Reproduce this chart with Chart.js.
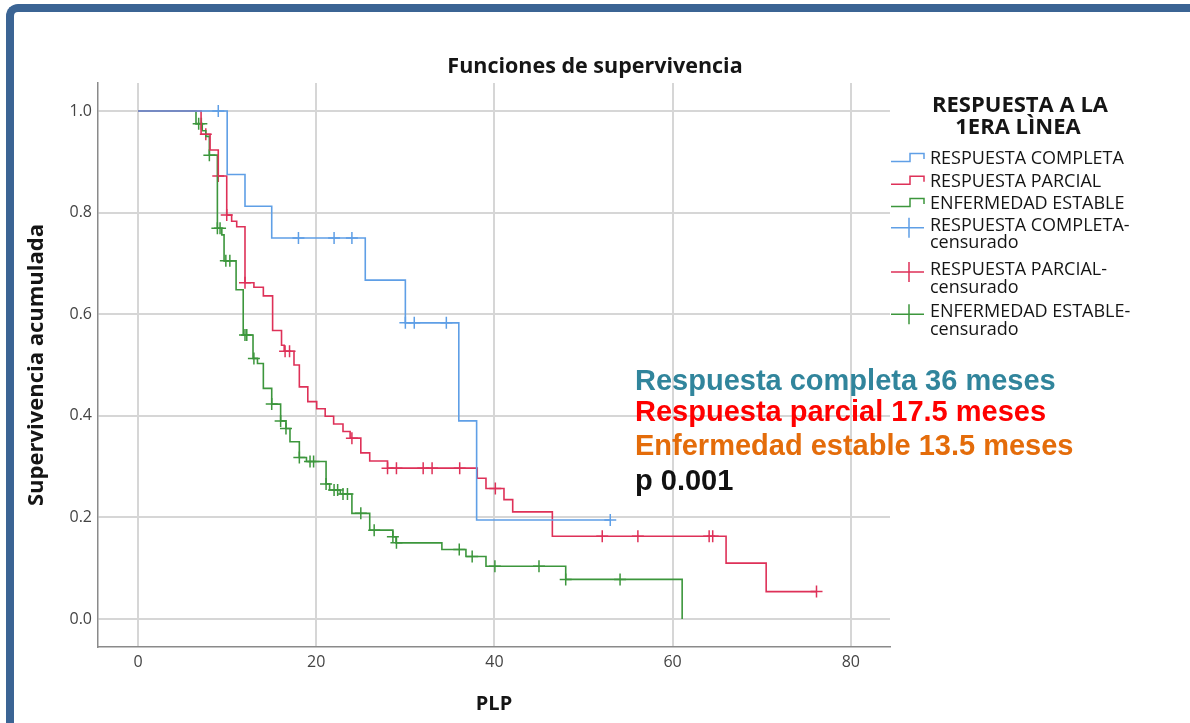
<!DOCTYPE html>
<html>
<head>
<meta charset="utf-8">
<script src="https://cdn.jsdelivr.net/npm/chart.js@4.4.1/dist/chart.umd.min.js"></script>
<style>
html, body { margin: 0; padding: 0; background: #fff; }
#wrap { position: relative; width: 1190px; height: 723px; overflow: hidden; }
#km { position: absolute; left: 0; top: 0; }
#frame {
    position: absolute; left: 6px; top: 4px; width: 1300px; height: 800px;
    border-left: 8px solid #3b6494; border-top: 8px solid #3b6494;
    border-top-left-radius: 12px; box-sizing: border-box; pointer-events: none;
}
</style>
</head>
<body>
<div id="wrap">
    <canvas id="km" width="1190" height="723"></canvas>
    <div id="frame"></div>
</div>
<script>
// tick labels
const xTicks = [0, 20, 40, 60, 80];
const yTicks = [0, 0.2, 0.4, 0.6, 0.8, 1.0];

// Respuesta completa: step times / survival, censored times
const completaTime = [0, 10.0, 12.0, 15.0, 25.5, 30.0, 36.0, 38.0, 53.0];
const completaSurv = [1, 0.875, 0.8125, 0.75, 0.667, 0.583, 0.39, 0.195, 0.195];
const completaCens = [9.0, 18.0, 22.0, 24.0, 30.0, 31.0, 34.6, 53.0];

// Respuesta parcial
const parcialTime = [0, 7.07, 8.08, 9.0, 9.95, 10.5, 11.07, 12.0, 13.0, 14.06, 15.1, 16.1, 16.4,
    17.5, 18.1, 19.05, 20.05, 21.0, 21.95, 23.0, 23.8, 25.0, 26.0, 28.0, 38.07, 39.05, 41.07,
    42.05, 46.5, 66.0, 70.5, 76.15];
const parcialSurv = [1, 0.954, 0.923, 0.872, 0.795, 0.783, 0.772, 0.662, 0.653, 0.636, 0.568, 0.539, 0.527,
    0.5, 0.457, 0.428, 0.414, 0.399, 0.384, 0.369, 0.356, 0.327, 0.311, 0.297, 0.277, 0.257, 0.235,
    0.211, 0.163, 0.11, 0.054, 0.054];
const parcialCens = [7.6, 9.0, 9.95, 12.0, 16.5, 17.0, 24.0, 28.0, 29.0, 32.0, 33.0, 36.1, 40.1,
    52.1, 56.1, 64.1, 64.5, 76.15];

// Enfermedad estable
const estableTime = [0, 6.5, 7.2, 7.6, 8.0, 8.9, 9.4, 9.65, 11.0, 11.8, 12.9, 13.4, 14.06, 15.0, 16.0,
    16.6, 17.05, 18.1, 18.9, 21.1, 21.5, 22.7, 24.0, 26.0, 28.6, 28.95, 34.1, 36.8, 39.05, 48.0, 61.07];
const estableSurv = [1, 0.975, 0.961, 0.95, 0.913, 0.769, 0.756, 0.705, 0.648, 0.559, 0.513, 0.503, 0.454,
    0.423, 0.39, 0.375, 0.349, 0.318, 0.31, 0.266, 0.254, 0.246, 0.208, 0.175, 0.162, 0.15, 0.137,
    0.123, 0.104, 0.078, 0];
const estableCens = [6.8, 7.1, 8.0, 8.9, 9.2, 9.85, 10.3, 12.0, 12.2, 13.0, 15.0, 16.0, 16.6, 18.1, 19.3,
    19.7, 21.1, 22.0, 22.4, 23.0, 23.5, 25.0, 26.5, 28.6, 29.0, 36.05, 37.5, 40.05, 45.0, 48.0, 54.1];

const notes = ['Respuesta completa 36 meses', 'Respuesta parcial 17.5 meses',
    'Enfermedad estable 13.5 meses', 'p 0.001'];

const FONT = '"Open Sans", "DejaVu Sans", sans-serif';

function steps(time, surv) {
    return time.map((t, i) => ({ x: t, y: surv[i] }));
}

// value of the step curve at a censored time
function survAt(time, surv, t) {
    let v = surv[0];
    for (let i = 0; i < time.length; i++) {
        if (time[i] <= t) v = surv[i];
    }
    return v;
}

const groups = [
    { label: 'RESPUESTA COMPLETA', time: completaTime, surv: completaSurv, cens: completaCens, color: '#5f9fe6' },
    { label: 'RESPUESTA PARCIAL', time: parcialTime, surv: parcialSurv, cens: parcialCens, color: '#de3158' },
    { label: 'ENFERMEDAD ESTABLE', time: estableTime, surv: estableSurv, cens: estableCens, color: '#3c963c' }
];

const datasets = [];
groups.forEach(g => {
    datasets.push({
        label: g.label,
        data: steps(g.time, g.surv),
        stepped: 'before',
        borderColor: g.color,
        borderWidth: 1.6,
        pointRadius: 0,
        fill: false
    });
});
groups.forEach(g => {
    datasets.push({
        label: g.label + '-censurado',
        data: g.cens.map(c => ({ x: c, y: survAt(g.time, g.surv, c) })),
        showLine: false,
        borderColor: g.color,
        pointStyle: 'cross',
        pointRadius: 6,
        pointHoverRadius: 6,
        pointBorderWidth: 1.5
    });
});

const overlay = {
    id: 'overlay',
    afterDraw(chart) {
        const ctx = chart.ctx;
        ctx.save();
        ctx.fillStyle = '#151515';
        ctx.textBaseline = 'alphabetic';

        // title
        ctx.textAlign = 'center';
        ctx.font = 'bold 21.5px ' + FONT;
        ctx.fillText('Funciones de supervivencia', 595, 73);

        // legend title
        ctx.font = 'bold 22px ' + FONT;
        ctx.fillText('RESPUESTA A LA', 1020, 112);
        ctx.fillText('1ERA LÌNEA', 1018, 134);

        // legend entries
        ctx.textAlign = 'left';
        ctx.font = '18px ' + FONT;
        const rows = [164, 186.7, 209, 230.7, 275, 317.3];
        chart.data.datasets.forEach((ds, i) => {
            const b = rows[i];
            ctx.strokeStyle = ds.borderColor;
            ctx.lineWidth = 1.5;
            ctx.beginPath();
            if (ds.showLine === false) {
                const cy = b - 3;
                ctx.moveTo(891, cy); ctx.lineTo(924, cy);
                ctx.moveTo(909, cy - 10); ctx.lineTo(909, cy + 10);
            } else {
                ctx.moveTo(891, b - 2.5); ctx.lineTo(910, b - 2.5);
                ctx.lineTo(910, b - 10.5); ctx.lineTo(924, b - 10.5);
                ctx.lineTo(924, b - 5);
            }
            ctx.stroke();
            ctx.fillStyle = '#151515';
            const parts = ds.label.split('-');
            if (parts.length > 1) {
                ctx.fillText(parts[0] + '-', 930, b);
                ctx.fillText(parts[1], 930, b + 17.6);
            } else {
                ctx.fillText(ds.label, 930, b);
            }
        });

        // median notes
        const noteColors = ['#31859c', '#ff0000', '#e46c0a', '#111111'];
        const noteBase = [390, 421, 455, 490];
        ctx.font = 'bold 29px "Liberation Sans", Arial, sans-serif';
        notes.forEach((t, i) => {
            ctx.fillStyle = noteColors[i];
            ctx.fillText(t, 635, noteBase[i]);
        });
        ctx.restore();
    }
};

new Chart(document.getElementById('km'), {
    type: 'line',
    data: { datasets: datasets },
    options: {
        responsive: false,
        animation: false,
        devicePixelRatio: 1,
        layout: { padding: { left: 0, right: 300, top: 83, bottom: 0 } },
        plugins: {
            legend: { display: false },
            title: { display: false },
            tooltip: { enabled: false }
        },
        scales: {
            x: {
                type: 'linear',
                min: -4.5,
                max: 84.4,
                afterBuildTicks: s => { s.ticks = xTicks.map(v => ({ value: v })); },
                afterFit: s => { s.height = 76; },
                ticks: { font: { family: FONT, size: 16 }, color: '#444', padding: 6, callback: v => v },
                grid: { color: '#d6d6d6', lineWidth: 2, drawTicks: false },
                border: { color: '#8a8a8a', width: 1.5 },
                title: {
                    display: true, text: 'PLP', color: '#151515',
                    font: { family: FONT, size: 20, weight: 'bold' },
                    padding: { top: 0, bottom: 7 }
                }
            },
            y: {
                min: -0.055,
                max: 1.055,
                afterBuildTicks: s => { s.ticks = yTicks.map(v => ({ value: v })); },
                afterFit: s => { s.width = 98; },
                ticks: { font: { family: FONT, size: 16 }, color: '#444', padding: 6, callback: v => v.toFixed(1) },
                grid: { color: '#d6d6d6', lineWidth: 2, drawTicks: false },
                border: { color: '#8a8a8a', width: 1.5 },
                title: {
                    display: true, text: 'Supervivencia acumulada', color: '#151515',
                    font: { family: FONT, size: 22, weight: 'bold' },
                    padding: { top: 24, bottom: 0 }
                }
            }
        }
    },
    plugins: [overlay]
});
</script>
</body>
</html>
